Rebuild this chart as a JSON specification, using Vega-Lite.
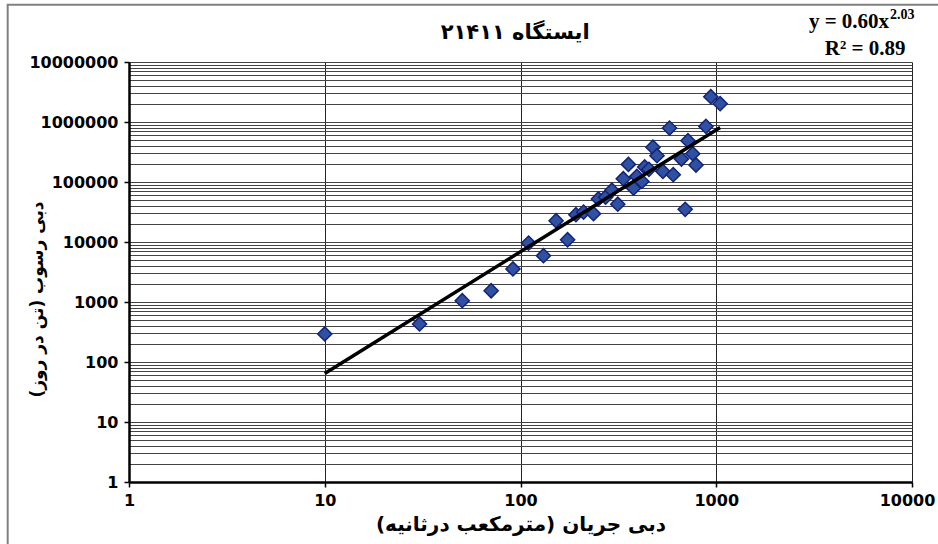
{
  "$schema": "https://vega.github.io/schema/vega-lite/v6.json",
  "width": 783,
  "height": 420,
  "autosize": "none",
  "padding": {"left": 129, "top": 62, "right": 26, "bottom": 62},
  "background": "white",
  "config": {"view": {"stroke": null}},
  "datasets": {
    "points": [
      {"discharge": 10, "sediment": 293},
      {"discharge": 30.5, "sediment": 430},
      {"discharge": 50.4, "sediment": 1050},
      {"discharge": 70.8, "sediment": 1540},
      {"discharge": 91.5, "sediment": 3550},
      {"discharge": 110, "sediment": 9620},
      {"discharge": 131, "sediment": 5910},
      {"discharge": 152, "sediment": 22600},
      {"discharge": 174, "sediment": 10900},
      {"discharge": 192, "sediment": 28500},
      {"discharge": 210, "sediment": 31600},
      {"discharge": 236, "sediment": 29600},
      {"discharge": 250, "sediment": 52100},
      {"discharge": 272, "sediment": 55800},
      {"discharge": 293, "sediment": 73000},
      {"discharge": 314, "sediment": 42700},
      {"discharge": 335, "sediment": 113500},
      {"discharge": 356, "sediment": 196500},
      {"discharge": 378, "sediment": 78800},
      {"discharge": 393, "sediment": 124000},
      {"discharge": 417, "sediment": 102300},
      {"discharge": 431, "sediment": 177800},
      {"discharge": 453, "sediment": 162800},
      {"discharge": 475, "sediment": 380000},
      {"discharge": 498, "sediment": 274300},
      {"discharge": 534, "sediment": 150200},
      {"discharge": 577, "sediment": 794000},
      {"discharge": 603, "sediment": 132400},
      {"discharge": 664, "sediment": 241600},
      {"discharge": 694, "sediment": 35100},
      {"discharge": 717, "sediment": 488000},
      {"discharge": 758, "sediment": 296400},
      {"discharge": 788, "sediment": 192000},
      {"discharge": 886, "sediment": 844600},
      {"discharge": 938, "sediment": 2640000},
      {"discharge": 1047, "sediment": 2020000}
    ],
    "fit": [
      {"discharge": 10, "sediment": 64.3},
      {"discharge": 1047, "sediment": 810600}
    ]
  },
  "layer": [
    {
      "data": {"name": "points"},
      "mark": {"type": "point", "shape": "diamond", "filled": true, "size": 200, "fill": "#3050A0", "stroke": "#14237A", "strokeWidth": 1.5, "opacity": 1},
      "encoding": {
        "x": {
          "field": "discharge", "type": "quantitative",
          "scale": {"type": "log", "domain": [1, 10000], "nice": false},
          "axis": {
            "values": [1, 10, 100, 1000, 10000], "format": "d",
            "title": "دبی جریان (مترمکعب درثانیه)",
            "grid": true, "gridColor": "#222", "gridWidth": 1,
            "domainColor": "black", "domainWidth": 2.5,
            "tickColor": "black", "tickSize": 5, "tickWidth": 1.5,
            "labelFont": "DejaVu Sans", "labelFontWeight": "bold", "labelFontSize": 16, "labelColor": "black",
            "labelOffset": {"condition": {"test": "datum.value == 10000", "value": -5}, "value": 0},
            "labelPadding": 5, "labelFlush": false, "labelOverlap": false, "labelBound": false,
            "titleFont": "DejaVu Sans", "titleFontSize": 20, "titleFontWeight": "bold", "titleColor": "black", "titlePadding": 6
          }
        },
        "y": {
          "field": "sediment", "type": "quantitative",
          "scale": {"type": "log", "domain": [1, 10000000], "nice": false},
          "axis": {
            "values": [1,2,3,4,5,6,7,8,9,10,20,30,40,50,60,70,80,90,100,200,300,400,500,600,700,800,900,1000,2000,3000,4000,5000,6000,7000,8000,9000,10000,20000,30000,40000,50000,60000,70000,80000,90000,100000,200000,300000,400000,500000,600000,700000,800000,900000,1000000,2000000,3000000,4000000,5000000,6000000,7000000,8000000,9000000,10000000],
            "labelExpr": "indexof([1,10,100,1000,10000,100000,1000000,10000000], datum.value) >= 0 ? format(datum.value, 'd') : ''",
            "title": "دبی رسوب (تن در روز)",
            "grid": true, "gridColor": "#444", "gridWidth": 1,
            "domainColor": "black", "domainWidth": 2.5,
            "tickColor": "black", "tickSize": 5, "tickWidth": 1.5,
            "tickOpacity": {"condition": {"test": "indexof([1,10,100,1000,10000,100000,1000000,10000000], datum.value) >= 0", "value": 1}, "value": 0},
            "labelFont": "DejaVu Sans", "labelFontWeight": "bold", "labelFontSize": 16, "labelColor": "black",
            "labelPadding": 6, "labelOverlap": false, "labelBound": false,
            "titleFont": "DejaVu Sans", "titleFontSize": 17, "titleFontWeight": "bold", "titleColor": "black",
            "titleX": -92, "titleY": 237, "titleAngle": -90, "titleBaseline": "middle", "titleAlign": "center"
          }
        }
      }
    },
    {
      "data": {"name": "fit"},
      "mark": {"type": "line", "color": "black", "strokeWidth": 3.5},
      "encoding": {
        "x": {"field": "discharge", "type": "quantitative", "scale": {"type": "log", "domain": [1, 10000], "nice": false}},
        "y": {"field": "sediment", "type": "quantitative", "scale": {"type": "log", "domain": [1, 10000000], "nice": false}}
      }
    },
    {
      "data": {"values": [{}]},
      "mark": {"type": "rect", "fillOpacity": 0, "stroke": "#808080", "strokeWidth": 2, "clip": false},
      "encoding": {
        "x": {"datum": 0.24, "type": "quantitative"},
        "x2": {"datum": 16000},
        "y": {"datum": 90000000, "type": "quantitative"},
        "y2": {"datum": 0.05}
      }
    },
    {
      "data": {"values": [{}]},
      "mark": {"type": "text", "align": "center", "baseline": "middle", "font": "DejaVu Sans", "fontWeight": "bold", "fontSize": 21, "color": "black"},
      "encoding": {
        "x": {"datum": 93.9, "type": "quantitative"},
        "y": {"datum": 30800000, "type": "quantitative"},
        "text": {"value": "ایستگاه ۲۱۴۱۱"}
      }
    },
    {
      "data": {"values": [{}]},
      "mark": {"type": "text", "align": "right", "baseline": "alphabetic", "font": "Liberation Serif", "fontWeight": "bold", "fontSize": 21, "color": "black"},
      "encoding": {
        "x": {"datum": 7640, "type": "quantitative"},
        "y": {"datum": 37300000, "type": "quantitative"},
        "text": {"value": "y = 0.60x"}
      }
    },
    {
      "data": {"values": [{}]},
      "mark": {"type": "text", "align": "left", "baseline": "alphabetic", "font": "Liberation Serif", "fontWeight": "bold", "fontSize": 14, "color": "black", "dx": 1},
      "encoding": {
        "x": {"datum": 7640, "type": "quantitative"},
        "y": {"datum": 52700000, "type": "quantitative"},
        "text": {"value": "2.03"}
      }
    },
    {
      "data": {"values": [{}]},
      "mark": {"type": "text", "align": "center", "baseline": "alphabetic", "font": "Liberation Serif", "fontWeight": "bold", "fontSize": 21, "color": "black"},
      "encoding": {
        "x": {"datum": 5757, "type": "quantitative"},
        "y": {"datum": 13240000, "type": "quantitative"},
        "text": {"value": "R² = 0.89"}
      }
    }
  ]
}
